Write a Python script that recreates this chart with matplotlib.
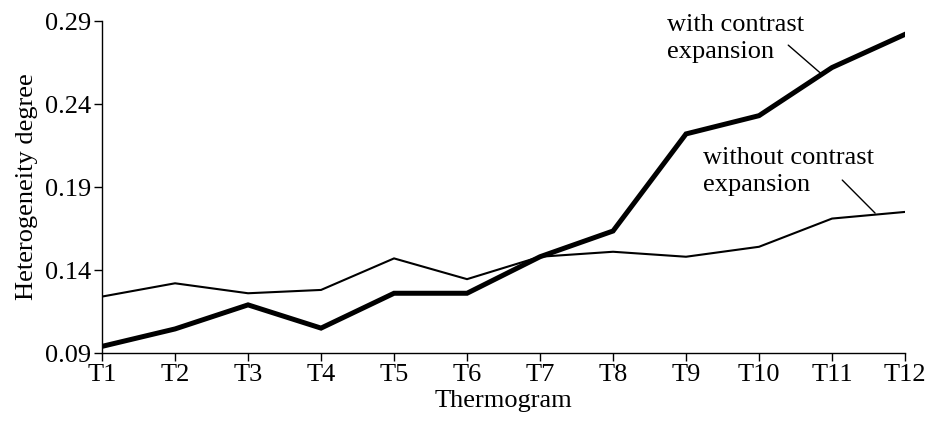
import matplotlib
matplotlib.use("Agg")
import matplotlib.pyplot as plt

plt.rcParams['font.family'] = ['Liberation Serif', 'DejaVu Serif']

# data
thermograms = ["T1", "T2", "T3", "T4", "T5", "T6", "T7", "T8", "T9", "T10", "T11", "T12"]
with_expansion = [0.094, 0.1045, 0.119, 0.105, 0.126, 0.126, 0.148, 0.1635, 0.222, 0.233, 0.262, 0.282]
without_expansion = [0.124, 0.132, 0.126, 0.128, 0.147, 0.1345, 0.148, 0.151, 0.148, 0.154, 0.171, 0.175]
y_ticks = [0.09, 0.14, 0.19, 0.24, 0.29]

FS = 19

fig = plt.figure(figsize=(9.31, 4.21), dpi=100)
ax = fig.add_axes([0.1096, 0.1615, 0.8625, 0.7885])

x = list(range(len(thermograms)))
ax.plot(x, without_expansion, color='black', lw=1.5, solid_joinstyle='miter')
ax.plot(x, with_expansion, color='black', lw=3.6, solid_joinstyle='miter')

ax.set_xlim(0, len(thermograms) - 1)
ax.set_ylim(0.09, 0.29)
ax.set_xticks(x)
ax.set_xticklabels(thermograms)
ax.set_yticks(y_ticks)
ax.set_yticklabels([f"{v:.2f}" for v in y_ticks])
ax.tick_params(direction='out', length=6, width=1, labelsize=FS, pad=2)

for side in ['top', 'right']:
    ax.spines[side].set_visible(False)
for side in ['left', 'bottom']:
    ax.spines[side].set_linewidth(1)

ax.set_xlabel("Thermogram", fontsize=FS, labelpad=3)
ax.set_ylabel("Heterogeneity degree", fontsize=FS, labelpad=5)

# labels with leader lines
ax.text(7.74, 0.2795, "with contrast\nexpansion", fontsize=FS, ha='left', va='center',
        linespacing=1.3, clip_on=False)
ax.annotate('', xy=(9.84, 0.2587), xytext=(9.40, 0.2755),
            arrowprops=dict(arrowstyle='-', lw=1, color='black', shrinkA=0, shrinkB=0),
            annotation_clip=False)

ax.text(8.23, 0.1995, "without contrast\nexpansion", fontsize=FS, ha='left', va='center',
        linespacing=1.3)
ax.annotate('', xy=(10.59, 0.1743), xytext=(10.14, 0.1942),
            arrowprops=dict(arrowstyle='-', lw=1, color='black', shrinkA=0, shrinkB=0))

fig.savefig("out.png", dpi=100)
